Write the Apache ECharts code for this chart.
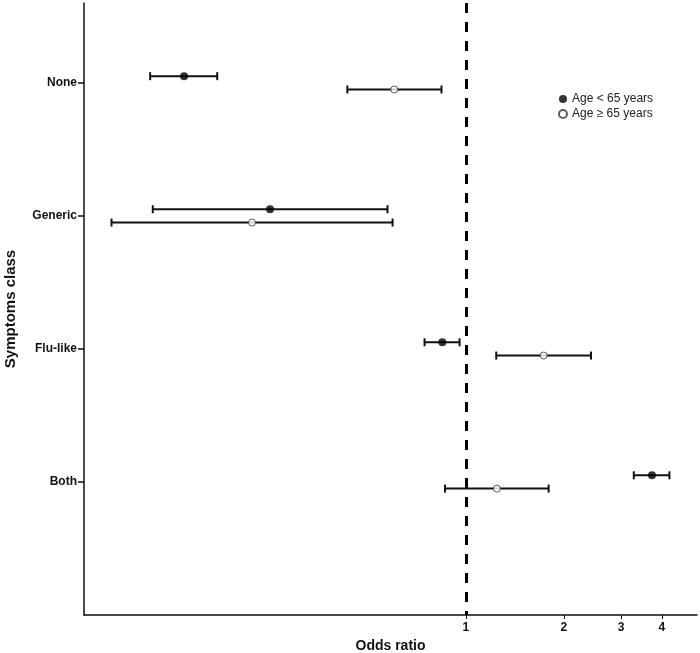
<!DOCTYPE html>
<html>
<head>
<meta charset="utf-8">
<script src="https://cdn.jsdelivr.net/npm/echarts@6/dist/echarts.min.js"></script>
<style>
  html, body { margin: 0; padding: 0; background: #fff; }
  #chart { width: 700px; height: 653px; }
</style>
</head>
<body>
<div id="chart"></div>
<script>
// symptom classes, top to bottom
const categories = ['None', 'Generic', 'Flu-like', 'Both']
const xTicks = [1, 2, 3, 4]

// Age < 65 years
const youngOR = [0.136, 0.250, 0.846, 3.73]
const youngLow = [0.107, 0.109, 0.746, 3.28]
const youngHigh = [0.172, 0.574, 0.956, 4.22]

// Age >= 65 years
const oldOR = [0.602, 0.220, 1.733, 1.245]
const oldLow = [0.432, 0.0814, 1.239, 0.862]
const oldHigh = [0.841, 0.595, 2.423, 1.795]

const FONT = '"Liberation Sans", Arial, sans-serif'

function rows(or, low, high, shift) {
  return categories.map((c, i) => [or[i], i + 1 + shift, low[i], high[i]])
}

function errorBar(params, api) {
  const y = api.value(1)
  const a = api.coord([api.value(2), y])
  const b = api.coord([api.value(3), y])
  const cap = 4
  const style = { stroke: '#111', lineWidth: 2 }
  return {
    type: 'group',
    children: [
      { type: 'line', shape: { x1: a[0], y1: a[1], x2: b[0], y2: b[1] }, style: style },
      { type: 'line', shape: { x1: a[0], y1: a[1] - cap, x2: a[0], y2: a[1] + cap }, style: style },
      { type: 'line', shape: { x1: b[0], y1: b[1] - cap, x2: b[0], y2: b[1] + cap }, style: style }
    ]
  }
}

const youngData = rows(youngOR, youngLow, youngHigh, -0.05)
const oldData = rows(oldOR, oldLow, oldHigh, 0.05)

const myChart = echarts.init(document.getElementById('chart'))
const option = {
  animation: false,
  textStyle: { fontFamily: FONT },
  grid: { left: 84, right: 3, top: 3, bottom: 38, containLabel: false, outerBoundsMode: 'none' },
  legend: {
    orient: 'vertical',
    left: 553,
    top: 88,
    itemWidth: 8,
    itemHeight: 8,
    itemGap: 3,
    data: [
      { name: 'Age < 65 years', icon: 'circle' },
      { name: 'Age ≥ 65 years', icon: 'circle' }
    ],
    textStyle: { fontFamily: FONT, fontSize: 12, color: '#222' }
  },
  xAxis: {
    type: 'log',
    logBase: 10,
    min: 0.067,
    max: 5.13,
    name: 'Odds ratio',
    nameLocation: 'middle',
    nameGap: 24,
    nameTextStyle: { fontFamily: FONT, fontSize: 14, fontWeight: 'bold', color: '#111' },
    axisLine: { lineStyle: { color: '#111', width: 1.5 } },
    axisTick: { customValues: xTicks, length: 4, lineStyle: { color: '#111' } },
    axisLabel: {
      customValues: xTicks,
      margin: 7,
      fontFamily: FONT, fontSize: 12, fontWeight: 'bold', color: '#111',
      formatter: v => String(Math.round(v))
    },
    splitLine: { show: false },
    minorTick: { show: false }
  },
  yAxis: {
    type: 'value',
    inverse: true,
    min: 0.4,
    max: 5,
    name: 'Symptoms class',
    nameLocation: 'middle',
    nameGap: 66,
    nameTextStyle: { fontFamily: FONT, fontSize: 15, fontWeight: 'bold', color: '#111' },
    axisLine: { show: true, lineStyle: { color: '#111', width: 1.5 } },
    axisTick: { show: true, customValues: [1, 2, 3, 4], length: 6, lineStyle: { color: '#111', width: 1.5 } },
    axisLabel: {
      customValues: [1, 2, 3, 4],
      margin: 7,
      fontFamily: FONT, fontSize: 12, fontWeight: 'bold', color: '#111',
      formatter: v => categories[Math.round(v) - 1]
    },
    splitLine: { show: false }
  },
  series: [
    {
      name: 'ci young',
      type: 'custom',
      renderItem: errorBar,
      encode: { x: [0, 2, 3], y: 1 },
      data: youngData,
      z: 2
    },
    {
      name: 'ci old',
      type: 'custom',
      renderItem: errorBar,
      encode: { x: [0, 2, 3], y: 1 },
      data: oldData,
      z: 2
    },
    {
      name: 'Age < 65 years',
      type: 'scatter',
      symbol: 'circle',
      symbolSize: 8,
      itemStyle: { color: '#000' },
      data: youngData.map(d => [d[0], d[1]]),
      z: 4,
      markLine: {
        silent: true,
        symbol: 'none',
        label: { show: false },
        lineStyle: { type: [10, 9], width: 3, color: '#000' },
        data: [{ xAxis: 1 }]
      }
    },
    {
      name: 'Age ≥ 65 years',
      type: 'scatter',
      symbol: 'circle',
      symbolSize: 7,
      itemStyle: { color: '#fff', borderColor: '#333', borderWidth: 1 },
      data: oldData.map(d => [d[0], d[1]]),
      z: 4
    }
  ]
}
myChart.setOption(option)
</script>
</body>
</html>
